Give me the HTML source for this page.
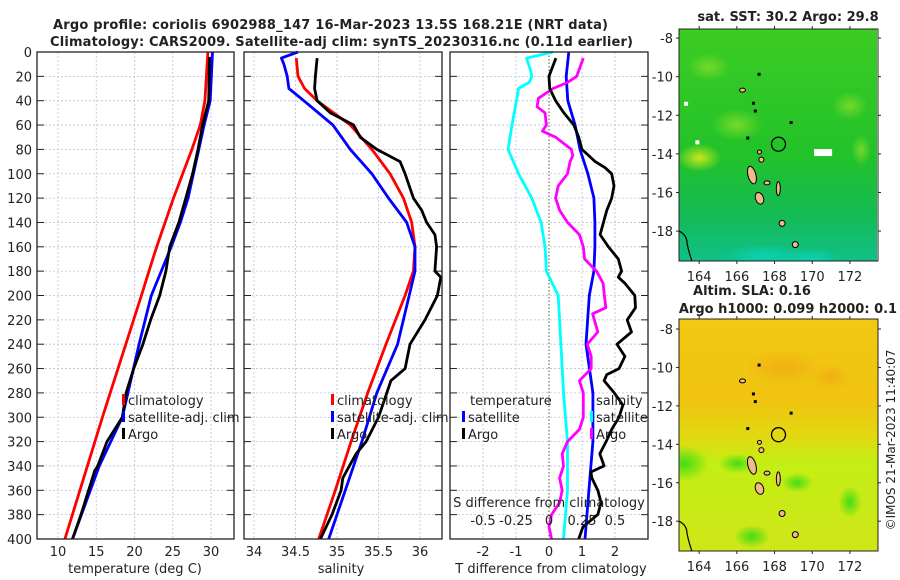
<!DOCTYPE html>
<html><head><meta charset="utf-8">
<style>
html,body{margin:0;padding:0;background:#fff;}
svg{display:block;font-family:"DejaVu Sans","Liberation Sans",sans-serif;}
</style></head>
<body>
<svg id="fig" width="900" height="580" viewBox="0 0 900 580" xmlns="http://www.w3.org/2000/svg">
<defs>
<radialGradient id="sstLight" cx="0.5" cy="0.5" r="0.5"><stop offset="0" stop-color="#7ddc2a" stop-opacity="0.9"/><stop offset="1" stop-color="#7ddc2a" stop-opacity="0"/></radialGradient>
<radialGradient id="sstYel" cx="0.5" cy="0.5" r="0.5"><stop offset="0" stop-color="#c8e81c"/><stop offset="1" stop-color="#c8e81c" stop-opacity="0"/></radialGradient>
<radialGradient id="sstTeal" cx="0.5" cy="0.5" r="0.5"><stop offset="0" stop-color="#0ad2b4"/><stop offset="1" stop-color="#0ad2b4" stop-opacity="0"/></radialGradient>
<linearGradient id="sstBase" x1="0" y1="0" x2="0" y2="1"><stop offset="0" stop-color="#3ccc22"/><stop offset="0.55" stop-color="#22c22a"/><stop offset="0.8" stop-color="#14bb55"/><stop offset="1" stop-color="#10c088"/></linearGradient>
<linearGradient id="slaBase" x1="0" y1="0" x2="0" y2="1"><stop offset="0" stop-color="#f2c812"/><stop offset="0.35" stop-color="#f0c410"/><stop offset="0.5" stop-color="#e2d810"/><stop offset="0.62" stop-color="#c4ee14"/><stop offset="1" stop-color="#cfe618"/></linearGradient>
<radialGradient id="slaGreen" cx="0.5" cy="0.5" r="0.5"><stop offset="0" stop-color="#44dc14"/><stop offset="1" stop-color="#44dc14" stop-opacity="0"/></radialGradient>
<radialGradient id="slaOr" cx="0.5" cy="0.5" r="0.5"><stop offset="0" stop-color="#f0b010"/><stop offset="1" stop-color="#f0b010" stop-opacity="0"/></radialGradient>
<clipPath id="clipSst"><rect x="679" y="29" width="198" height="232"/></clipPath>
<clipPath id="clipSla"><rect x="679" y="319" width="199" height="232"/></clipPath>
</defs>
<g id="root"></g>
</svg>
<script>
// ---------- data ----------
const tempTicks = [10, 15, 20, 25, 30];
const salTicks = [34, 34.5, 35, 35.5, 36];
const salTickLabels = ["34", "34.5", "35", "35.5", "36"];
const tdiffTicks = [-2, -1, 0, 1, 2];
const sdiffTicks = [-0.5, -0.25, 0, 0.25, 0.5];
const sdiffTickLabels = ["-0.5", "-0.25", "0", "0.25", "0.5"];
const depthTicks = [0,20,40,60,80,100,120,140,160,180,200,220,240,260,280,300,320,340,360,380,400];

const climTDepth = [0, 40, 60, 80, 100, 120, 140, 160, 180, 200, 300, 400];
const climTemp   = [29.6, 29.2, 28.6, 27.5, 26.3, 25.1, 24.0, 22.9, 21.9, 20.9, 15.8, 10.9];
const satTDepth  = [0, 40, 60, 80, 100, 120, 140, 160, 180, 200, 240, 300, 340, 400];
const satTemp    = [30.2, 29.9, 29.1, 28.4, 27.7, 27.0, 26.0, 24.8, 23.5, 22.2, 20.6, 18.4, 15.4, 11.9];
const argoTDepth = [4, 40, 60, 80, 100, 120, 140, 160, 180, 200, 220, 240, 260, 280, 300, 320, 340, 344, 360, 380, 400];
const argoTemp   = [29.8, 29.7, 28.9, 28.3, 27.6, 26.7, 25.8, 24.6, 24.1, 23.3, 22.1, 21.1, 19.9, 18.9, 18.4, 16.4, 15.2, 14.8, 14.0, 13.0, 11.9];

const climSDepth = [5, 20, 30, 40, 60, 80, 100, 120, 140, 160, 180, 200, 240, 280, 320, 360, 400];
const climSal    = [34.51, 34.53, 34.61, 34.76, 35.16, 35.42, 35.64, 35.80, 35.90, 35.94, 35.92, 35.82, 35.59, 35.37, 35.17, 34.98, 34.78];
const satSDepth  = [0, 5, 10, 20, 30, 40, 60, 80, 100, 120, 140, 160, 180, 200, 240, 280, 320, 360, 400];
const satSal     = [34.53, 34.33, 34.36, 34.40, 34.42, 34.60, 34.95, 35.16, 35.42, 35.62, 35.84, 35.94, 35.94, 35.87, 35.73, 35.48, 35.30, 35.10, 34.90];
const argoSDepth = [5, 20, 30, 40, 50, 60, 70, 80, 90, 100, 120, 130, 140, 150, 160, 180, 185, 200, 220, 240, 260, 270, 280, 300, 320, 330, 340, 350, 360, 380, 390, 400];
const argoSal    = [34.76, 34.74, 34.73, 34.76, 34.92, 35.20, 35.28, 35.48, 35.76, 35.82, 35.92, 36.02, 36.08, 36.18, 36.20, 36.18, 36.25, 36.21, 36.06, 35.88, 35.82, 35.65, 35.60, 35.50, 35.35, 35.23, 35.15, 35.07, 35.05, 34.94, 34.87, 34.80];

const satTdDepth = [0, 20, 40, 60, 80, 100, 120, 140, 160, 180, 200, 240, 280, 320, 360, 400];
const satTdiff   = [0.60, 0.52, 0.57, 0.79, 0.94, 1.18, 1.36, 1.39, 1.39, 1.36, 1.22, 1.12, 1.33, 1.33, 1.21, 1.09];
const argoTdDepth = [5, 20, 30, 40, 50, 60, 70, 80, 90, 95, 100, 110, 120, 130, 140, 150, 160, 170, 180, 185, 190, 200, 210, 220, 230, 240, 250, 260, 265, 270, 280, 290, 300, 310, 320, 330, 340, 345, 350, 360, 370, 380, 390, 400];
const argoTdiff   = [0.21, 0.0, 0.02, 0.20, 0.45, 0.75, 0.90, 1.00, 1.40, 1.70, 1.90, 1.97, 1.90, 1.75, 1.65, 1.55, 1.80, 2.10, 2.20, 2.10, 2.30, 2.60, 2.62, 2.37, 2.50, 2.06, 2.30, 2.12, 1.75, 1.67, 1.98, 2.24, 2.12, 1.90, 1.73, 1.54, 1.67, 1.27, 1.30, 1.48, 1.58, 1.48, 1.03, 0.90];
const satSdDepth = [0, 5, 15, 20, 25, 30, 60, 80, 100, 120, 140, 160, 180, 200, 240, 280, 320, 360, 400];
const satSdiff   = [0.03, -0.17, -0.14, -0.13, -0.15, -0.23, -0.28, -0.31, -0.23, -0.13, -0.06, -0.03, -0.02, 0.07, 0.09, 0.11, 0.14, 0.14, 0.11];
const argoSdDepth = [5, 20, 25, 30, 38, 45, 50, 60, 65, 70, 80, 85, 90, 100, 110, 120, 130, 140, 150, 160, 170, 180, 190, 200, 210, 215, 230, 240, 250, 260, 270, 280, 300, 310, 320, 330, 340, 350, 360, 370, 380, 390, 400];
const argoSdiff   = [0.26, 0.21, 0.14, 0.03, -0.08, -0.09, -0.03, -0.02, -0.05, 0.05, 0.17, 0.18, 0.16, 0.14, 0.07, 0.05, 0.08, 0.14, 0.23, 0.26, 0.27, 0.36, 0.41, 0.42, 0.43, 0.33, 0.37, 0.29, 0.32, 0.32, 0.23, 0.26, 0.26, 0.23, 0.14, 0.10, 0.11, 0.08, 0.10, 0.08, 0.02, 0.00, 0.02];

const mapLonTicks = [164, 166, 168, 170, 172];
const mapLatTicks = [-8, -10, -12, -14, -16, -18];
const argoLon = 168.21, argoLat = -13.5;

// ---------- helpers ----------
const NS = "http://www.w3.org/2000/svg";
const root = document.getElementById("root");
function mk(tag, attrs, parent){ const e=document.createElementNS(NS,tag); for(const k in attrs) e.setAttribute(k,attrs[k]); (parent||root).appendChild(e); return e; }
const Y0=52, Y1=539;
function yD(d){ return Y0 + d*(Y1-Y0)/400; }
function lin(d0,d1,r0,r1){ return v => r0 + (v-d0)*(r1-r0)/(d1-d0); }
const xT = lin(10,30,58,211);
const xS = lin(34,36,254,420);
const xTd = lin(0,1,549,582);
const xSd = v => xTd(v*4);

function panel(x0,x1,name){
  const g=mk("g",{});   return g;
}
function grid(g,x0,x1,xticks,xf){
  xticks.forEach(t=>{ const l=mk("line",{x1:xf(t),x2:xf(t),y1:Y0,y2:Y1,stroke:"#b8c0dc","stroke-width":0.8,"stroke-dasharray":"2,2"},g);   });
  depthTicks.forEach(d=>{ const l=mk("line",{x1:x0,x2:x1,y1:yD(d),y2:yD(d),stroke:"#b8c0dc","stroke-width":0.8,"stroke-dasharray":"2,2"},g);  
    mk("line",{x1:x0,x2:x0+7,y1:yD(d),y2:yD(d),stroke:"#222","stroke-width":1},g); mk("line",{x1:x1-7,x2:x1,y1:yD(d),y2:yD(d),stroke:"#222","stroke-width":1},g); });
}
function frame(g,x0,x1){ const r=mk("rect",{x:x0,y:Y0,width:x1-x0,height:Y1-Y0,fill:"none",stroke:"#222","stroke-width":1.3},g);   }
function series(g,depths,vals,xf,color,name,w){
  const pts=depths.map((d,i)=>xf(vals[i]).toFixed(1)+","+yD(d).toFixed(1)).join(" ");
  const p=mk("polyline",{points:pts,fill:"none",stroke:color,"stroke-width":w||2.8,"stroke-linejoin":"round"},g);
   
}
function text(g,x,y,s,attrs,name){ const t=mk("text",Object.assign({x:x,y:y,"font-size":13,fill:"#222"},attrs||{}),g); t.textContent=s;   return t; }
function legendEntry(g,x,y,color,label,name){
  const r=mk("rect",{x:x,y:y-11,width:3,height:11,fill:color},g);  
  text(g,x+6,y,label,{},name);
}

// ---------- titles ----------
const tg=mk("g",{});  
text(tg,53,29,"Argo profile: coriolis 6902988_147 16-Mar-2023 13.5S 168.21E (NRT data)",{"font-weight":"bold",textLength:555,lengthAdjust:"spacing"},"title-line-1");
text(tg,50,46,"Climatology: CARS2009. Satellite-adj clim: synTS_20230316.nc (0.11d earlier)",{"font-weight":"bold",textLength:583,lengthAdjust:"spacing"},"title-line-2");

// y tick labels
const yl=mk("g",{});  
depthTicks.forEach(d=>text(yl,32,yD(d)+5,String(d),{"text-anchor":"end"},"depth-tick-label"));

// ---------- panel 1 temperature ----------
let g=panel(37,234,"temperature-panel");
grid(g,37,234,tempTicks,xT);
series(g,climTDepth,climTemp,xT,"#ff0000","climatology-temperature-line");
series(g,satTDepth,satTemp,xT,"#0000ff","satellite-temperature-line");
series(g,argoTDepth,argoTemp,xT,"#000000","argo-temperature-line");
frame(g,37,234);
tempTicks.forEach(t=>text(g,xT(t),556,String(t),{"text-anchor":"middle"},"temperature-tick-label"));
text(g,135,573,"temperature (deg C)",{"text-anchor":"middle"},"temperature-axis-title");
legendEntry(g,122,405,"#ff0000","climatology","legend-climatology");
legendEntry(g,122,422,"#0000ff","satellite-adj. clim","legend-satellite-adj");
legendEntry(g,122,439,"#000000","Argo","legend-argo");

// ---------- panel 2 salinity ----------
g=panel(244,442,"salinity-panel");
grid(g,244,442,salTicks,xS);
series(g,climSDepth,climSal,xS,"#ff0000","climatology-salinity-line");
series(g,satSDepth,satSal,xS,"#0000ff","satellite-salinity-line");
series(g,argoSDepth,argoSal,xS,"#000000","argo-salinity-line");
frame(g,244,442);
salTicks.forEach((t,i)=>text(g,xS(t),556,salTickLabels[i],{"text-anchor":"middle"},"salinity-tick-label"));
text(g,341,573,"salinity",{"text-anchor":"middle"},"salinity-axis-title");
legendEntry(g,331,405,"#ff0000","climatology","legend-climatology");
legendEntry(g,331,422,"#0000ff","satellite-adj. clim","legend-satellite-adj");
legendEntry(g,331,439,"#000000","Argo","legend-argo");

// ---------- panel 3 differences ----------
g=panel(450,648,"difference-panel");
grid(g,450,648,tdiffTicks.filter(t=>t!==0),xTd);
const zl=mk("line",{x1:xTd(0),x2:xTd(0),y1:Y0,y2:Y1,stroke:"#555533","stroke-width":1,"stroke-dasharray":"1.5,2"},g);  
series(g,satSdDepth,satSdiff,xSd,"#00ffff","satellite-salinity-diff-line");
series(g,satTdDepth,satTdiff,xTd,"#0000ff","satellite-temperature-diff-line");
series(g,argoSdDepth,argoSdiff,xSd,"#ff00ff","argo-salinity-diff-line");
series(g,argoTdDepth,argoTdiff,xTd,"#000000","argo-temperature-diff-line");
frame(g,450,648);
tdiffTicks.forEach(t=>text(g,xTd(t),556,String(t),{"text-anchor":"middle"},"tdiff-tick-label"));
text(g,551,573,"T difference from climatology",{"text-anchor":"middle"},"tdiff-axis-title");
text(g,549,507,"S difference from climatology",{"text-anchor":"middle"},"sdiff-axis-title");
sdiffTicks.forEach((t,i)=>text(g,xSd(t),525,sdiffTickLabels[i],{"text-anchor":"middle"},"sdiff-tick-label"));
text(g,470,405,"temperature",{},"legend-temperature-heading");
legendEntry(g,462,422,"#0000ff","satellite","legend-temp-satellite");
legendEntry(g,462,439,"#000000","Argo","legend-temp-argo");
text(g,596,405,"salinity",{},"legend-salinity-heading");
legendEntry(g,590,422,"#00ffff","satellite","legend-sal-satellite");
legendEntry(g,590,439,"#ff00ff","Argo","legend-sal-argo");

// ---------- maps ----------
function map(y0,y1,latTop,latBot,base,blobs,clip,name,title){
  const x0=679,x1=878;
  const lonF=lin(162.93,173.49,x0,x1), latF=lin(latTop,latBot,y0,y1);
  const mg=mk("g",{});  
  const inner=mk("g",{"clip-path":"url(#"+clip+")"},mg);
  mk("rect",{x:x0,y:y0,width:x1-x0,height:y1-y0,fill:base},inner);
  blobs.forEach(b=>{ const e=mk("ellipse",{cx:lonF(b[0]),cy:latF(b[1]),rx:b[2],ry:b[3],fill:b[4]},inner);   });
  // islands
  const isl=[[166.8,-15.1,4,9,-15],[167.2,-16.3,4,6,-20],[168.2,-15.8,2,7,0],[167.6,-15.5,3,2,0],[168.4,-17.6,3,3,0],[169.1,-18.7,3,3,0],[167.3,-14.3,2.5,2.5,0],[167.2,-13.9,2,2,0],[166.3,-10.7,3,2,0]];
  isl.forEach(s=>{ const e=mk("ellipse",{cx:lonF(s[0]),cy:latF(s[1]),rx:s[2],ry:s[3],fill:"#f3b98a",stroke:"#000","stroke-width":1,transform:`rotate(${s[4]} ${lonF(s[0])} ${latF(s[1])})`},inner);   });
  [[166.8,-11.3],[166.9,-11.7],[167.1,-9.8],[166.5,-13.1],[168.8,-12.3]].forEach(s=>mk("rect",{x:lonF(s[0]),y:latF(s[1]),width:3,height:3,fill:"#000"},inner));
  mk("path",{d:`M${x0},${latF(-18.0)} q8,4 8,12 q2,10 5,18`,fill:"none",stroke:"#000","stroke-width":1.2},inner);
  const c=mk("circle",{cx:lonF(argoLon),cy:latF(argoLat),r:7,fill:"none",stroke:"#000","stroke-width":1.3},mg);  
  const f=mk("rect",{x:x0,y:y0,width:x1-x0,height:y1-y0,fill:"none",stroke:"#222","stroke-width":1},mg);  
  mapLonTicks.forEach(t=>{ mk("line",{x1:lonF(t),x2:lonF(t),y1:y0,y2:y0-3,stroke:"#222"},mg); mk("line",{x1:lonF(t),x2:lonF(t),y1:y1,y2:y1+3,stroke:"#222"},mg); text(mg,lonF(t),y1+20,String(t),{"text-anchor":"middle"},"map-lon-tick-label"); });
  mapLatTicks.forEach(t=>{ mk("line",{x1:x0,x2:x0-3,y1:latF(t),y2:latF(t),stroke:"#222"},mg); mk("line",{x1:x1,x2:x1+3,y1:latF(t),y2:latF(t),stroke:"#222"},mg); text(mg,673,latF(t)+5,String(t),{"text-anchor":"end"},"map-lat-tick-label"); });
  title.forEach((s,i)=>text(mg,s[1],s[2],s[0],{"font-weight":"bold","text-anchor":"middle"},"map-title-"+(i+1)));
  return {lonF,latF,mg,inner};
}
const sst=map(29,261,-7.53,-19.55,"url(#sstBase)",[
  [164.0,-14.2,22,14,"url(#sstYel)"],[166.0,-12.5,26,16,"url(#sstLight)"],[164.5,-9.5,22,14,"url(#sstLight)"],
  [172.0,-11.5,18,14,"url(#sstLight)"],[172.6,-13.8,10,16,"url(#sstLight)"],[167.5,-19.3,45,12,"url(#sstTeal)"],[170.0,-19.4,26,10,"url(#sstTeal)"]
],"clipSst","sst-map",[["sat. SST: 30.2 Argo: 29.8",788,21]]);
mk("rect",{x:sst.lonF(170.1),y:sst.latF(-13.75),width:18,height:7,fill:"#fff"},sst.inner);
mk("rect",{x:sst.lonF(163.2),y:sst.latF(-11.3),width:4,height:4,fill:"#fff"},sst.inner);
mk("rect",{x:sst.lonF(163.8),y:sst.latF(-13.3),width:4,height:4,fill:"#fff"},sst.inner);
const sla=map(319,551,-7.48,-19.55,"url(#slaBase)",[
  [163.2,-15.0,25,18,"url(#slaGreen)"],[166.0,-15.0,18,10,"url(#slaGreen)"],[166.8,-18.8,18,12,"url(#slaGreen)"],
  [172.0,-17.0,12,16,"url(#slaGreen)"],[169.2,-16.0,16,10,"url(#slaGreen)"],[168.5,-10.0,40,18,"url(#slaOr)"],[171.0,-10.5,20,14,"url(#slaOr)"]
],"clipSla","sla-map",[["Altim. SLA: 0.16",752,295],["Argo h1000: 0.099 h2000: 0.1",788,313]]);

const cr=text(root,0,0,"©IMOS 21-Mar-2023 11:40:07",{"text-anchor":"middle","font-size":12,transform:"translate(895,440) rotate(-90)"},"copyright-timestamp");
</script>
</body></html>
